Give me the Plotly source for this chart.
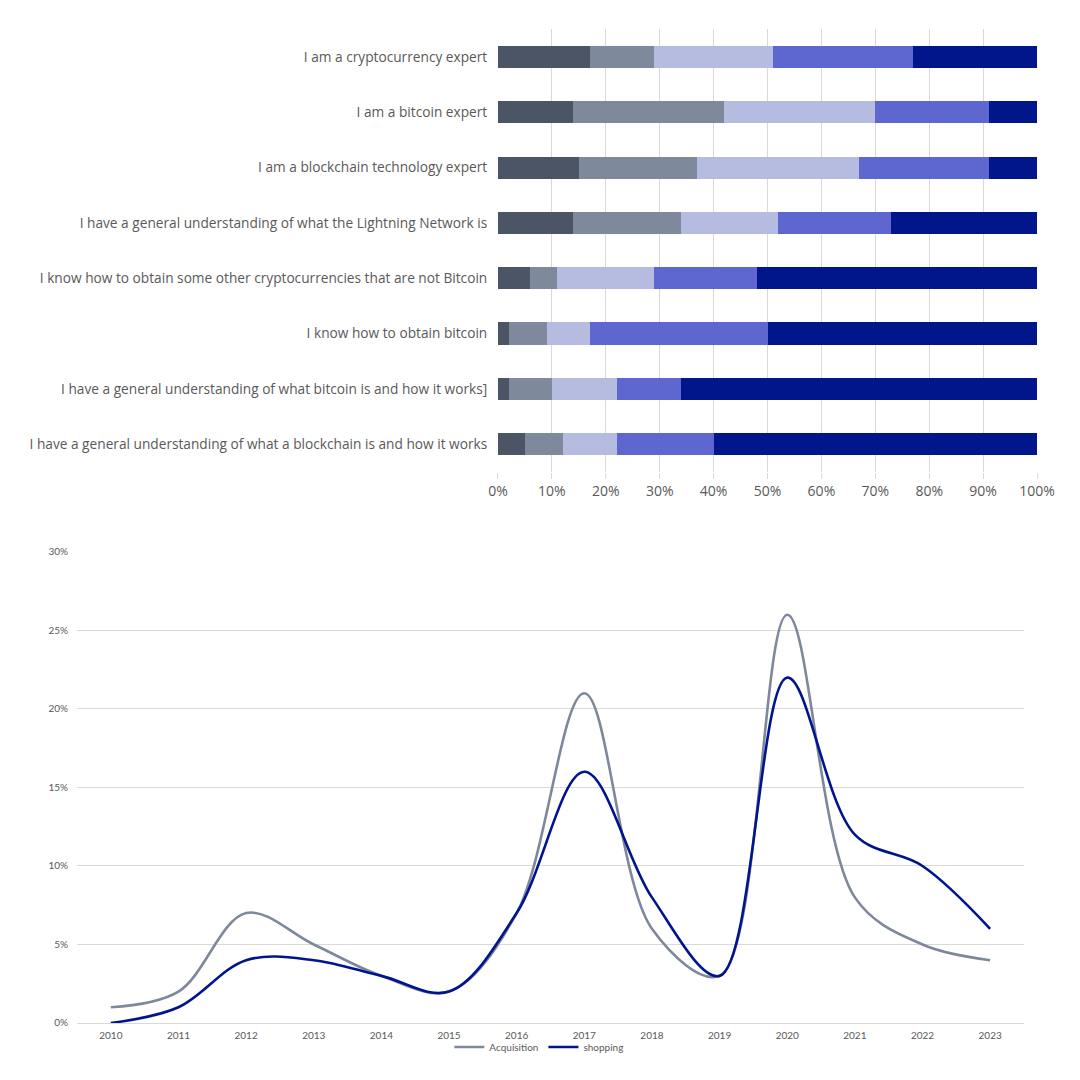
import plotly.graph_objects as go

# --- top chart: self-assessed knowledge (share of respondents) ---
statements = [
    "I am a cryptocurrency expert",
    "I am a bitcoin expert",
    "I am a blockchain technology expert",
    "I have a general understanding of what the Lightning Network is",
    "I know how to obtain some other cryptocurrencies that are not Bitcoin",
    "I know how to obtain bitcoin",
    "I have a general understanding of what bitcoin is and how it works]",
    "I have a general understanding of what a blockchain is and how it works",
]
level1 = [17, 14, 15, 14, 6, 2, 2, 5]
level2 = [12, 28, 22, 20, 5, 7, 8, 7]
level3 = [22, 28, 30, 18, 18, 8, 12, 10]
level4 = [26, 21, 24, 21, 19, 33, 12, 18]
level5 = [23, 9, 9, 27, 52, 50, 66, 60]
bar_colors = ["#4b5565", "#7e899b", "#b5bce0", "#5e67d0", "#00168a"]

# --- bottom chart: yearly share ---
years = [str(y) for y in range(2010, 2024)]
acquisition = [1, 2, 7, 5, 3, 2, 7, 21, 6, 3, 26, 8, 5, 4]
shopping = [0, 1, 4, 4, 3, 2, 7, 16, 8, 3, 22, 12, 10, 6]

fig = go.Figure()

for vals, col in zip([level1, level2, level3, level4, level5], bar_colors):
    fig.add_trace(go.Bar(
        x=[v / 100 for v in vals], y=statements, orientation="h",
        marker=dict(color=col, line=dict(width=0)),
        showlegend=False, xaxis="x", yaxis="y",
    ))

fig.add_trace(go.Scatter(
    x=years, y=[v / 100 for v in acquisition], name="Acquisition",
    mode="lines", line=dict(color="#7e889a", width=2.6, shape="spline", smoothing=1),
    xaxis="x2", yaxis="y2",
))
fig.add_trace(go.Scatter(
    x=years, y=[v / 100 for v in shopping], name="shopping",
    mode="lines", line=dict(color="#00158c", width=2.6, shape="spline", smoothing=1),
    xaxis="x2", yaxis="y2",
))

fig.update_layout(
    width=1080, height=1080,
    margin=dict(l=0, r=0, t=0, b=0, autoexpand=False),
    paper_bgcolor="white", plot_bgcolor="white",
    barmode="stack", bargap=0.6,
    font=dict(family="Open Sans", color="#595959"),
    xaxis=dict(
        domain=[0.4537, 0.9528], anchor="y", range=[0, 1],
        tickvals=[i / 10 for i in range(11)], tickformat=".0%",
        showgrid=True, gridcolor="#d9d9d9", gridwidth=1,
        zeroline=False, showline=False,
        ticks="outside", ticklen=6, tickcolor="#d9d9d9",
        tickfont=dict(size=14, color="#595959"), automargin=False,
    ),
    yaxis=dict(
        domain=[0.5706, 0.9801], anchor="x", autorange="reversed",
        showgrid=False, zeroline=False, showline=False,
        ticks="outside", ticklen=7, tickcolor="white",
        tickfont=dict(size=13.7, color="#595959"), automargin=False,
    ),
    xaxis2=dict(
        domain=[0.0639, 0.9407], anchor="y2", type="category", range=[-0.5, 13.5],
        showgrid=False, zeroline=False,
        showline=True, linecolor="#d9d9d9", linewidth=1,
        ticks="outside", ticklen=3, tickcolor="white",
        tickfont=dict(size=10, color="#595959", family="Lato"),
        automargin=False,
    ),
    yaxis2=dict(
        domain=[0.0602, 0.4963], anchor="x2", range=[0, 0.30],
        dtick=0.05, tickformat=".0%",
        showgrid=True, gridcolor="#d9d9d9", gridwidth=1,
        zeroline=False, showline=False,
        ticks="outside", ticklen=6, tickcolor="white",
        tickfont=dict(size=10, color="#595959", family="Lato"), automargin=False,
    ),
    legend=dict(
        orientation="h", x=0.492, xanchor="center", y=0.038, yanchor="middle",
        traceorder="normal",
        font=dict(size=10, color="#595959", family="Lato"),
        itemwidth=30, tracegroupgap=0, bgcolor="rgba(0,0,0,0)",
    ),
)

fig.write_html("out.html")
